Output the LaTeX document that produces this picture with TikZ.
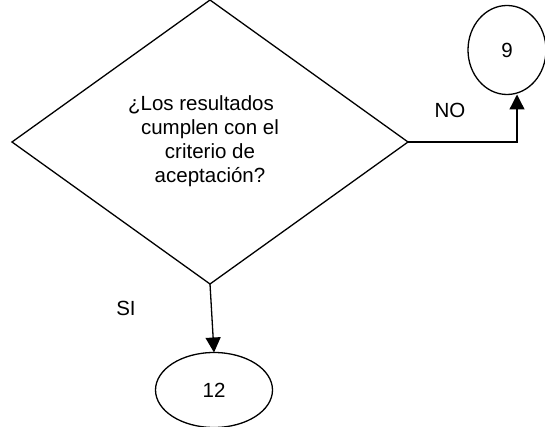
\documentclass[tikz,border=0pt]{standalone}
\usepackage{fontspec}
\setmainfont{Liberation Sans}
\usetikzlibrary{shapes.geometric,arrows.meta}
\begin{document}
\begin{tikzpicture}[x=1pt,y=-1pt,
  every node/.style={font=\fontsize{20.5}{24.5}\selectfont},
  shapeline/.style={draw=black,line width=1.3pt,inner sep=0pt,outer sep=0pt},
  decbox/.style={shapeline,diamond,minimum width=396pt,minimum height=284pt,align=center},
  connbox/.style={shapeline,ellipse},
  arr/.style={draw=black,line width=1.3pt,-{Triangle[width=15pt,length=15pt]}},
  lbl/.style={inner sep=0pt}]
\useasboundingbox[fill=white] (0,0) rectangle (545,427);
\node[decbox] (dec) at (210,142) {\raisebox{-2.5pt}{\begin{tabular}{@{}c@{}}¿Los resultados\hspace*{18pt}\\[-0.5pt]cumplen con el\\[-0.5pt]criterio de\\[-0.5pt]aceptación?\end{tabular}}};
\node[connbox,minimum width=78pt,minimum height=89pt] (c9) at (507,50) {9};
\node[connbox,minimum width=117pt,minimum height=75pt] (c12) at (214,390) {12};
\draw[arr] (dec.east) -| ([xshift=10pt]c9.south);
\draw[arr] (dec.south) -- (c12.north);
\node[lbl] (no) at (450,110) {NO};
\node[lbl] (si) at (126,308) {SI};
\end{tikzpicture}
\end{document}
